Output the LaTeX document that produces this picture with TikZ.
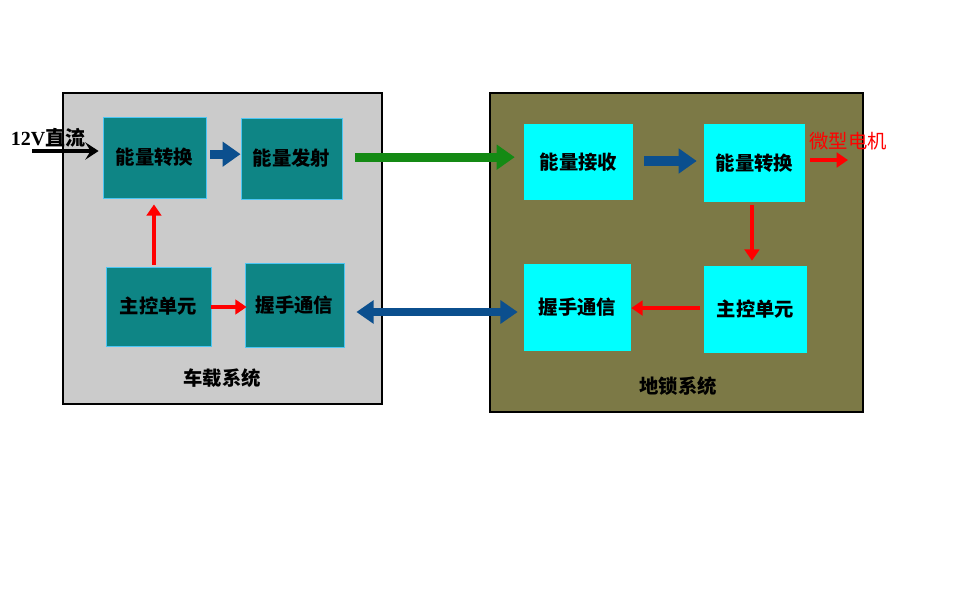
\documentclass[tikz,border=0pt]{standalone}
\usepackage{fontspec}
\usepackage{xcolor}
\usepackage{tikz}
\usetikzlibrary{arrows.meta}
\setmainfont{Liberation Serif}
\newfontfamily\cjk{Noto Sans CJK SC}

\definecolor{panelgray}{HTML}{CBCBCB}
\definecolor{panelolive}{HTML}{7C7946}
\definecolor{boxteal}{HTML}{0E8585}
\definecolor{boxcyan}{HTML}{00FFFF}
\definecolor{flowblue}{HTML}{0B4F8E}
\definecolor{flowgreen}{HTML}{148A14}
\definecolor{ctrlred}{HTML}{FF0000}

\tikzset{
  panel/.style={draw=black, line width=0.9pt, inner sep=0pt},
  tealbox/.style={draw=cyan!70, fill=boxteal, line width=0.6pt, inner sep=0pt,
    font=\cjk\bfseries\fontsize{14.5}{16}\selectfont},
  cyanbox/.style={fill=boxcyan, inner sep=0pt,
    font=\cjk\bfseries\fontsize{14.5}{16}\selectfont},
  caption/.style={inner sep=0.75pt, font=\cjk\bfseries\fontsize{14.5}{16}\selectfont},
  bigflow/.style={line width=7pt, -{Triangle[width=18pt,length=13.5pt]}},
  ctrlflow/.style={draw=ctrlred, line width=3pt, -{Triangle[width=11pt,length=8.5pt]}},
}

\begin{document}
\begin{tikzpicture}[x=0.75pt,y=0.75pt,yscale=-1,xscale=1]

\useasboundingbox (0,0) rectangle (954,596);

% panels
\node[panel, fill=panelgray, minimum width=239.25pt, minimum height=233.25pt] (lpanel) at (222.5,248.5) {};
\node[panel, fill=panelolive, minimum width=279.75pt, minimum height=239.25pt] (rpanel) at (676.5,252.5) {};

% vehicle side
\node[tealbox, minimum width=77.25pt, minimum height=60.75pt] (lzh) at (154.5,157.5) {能量转换};
\node[tealbox, minimum width=75.75pt, minimum height=60.75pt] (lfs) at (291.5,158.5) {能量发射};
\node[tealbox, minimum width=78.75pt, minimum height=59.25pt] (lzk) at (158.5,306.5) {主控单元};
\node[tealbox, minimum width=74.25pt, minimum height=63pt] (lws) at (294.5,305) {握手通信};
\node[caption] (lname) at (222,378) {车载系统};

% ground lock side
\node[cyanbox, minimum width=81.75pt, minimum height=57pt] (rjs) at (578.5,162) {能量接收};
\node[cyanbox, minimum width=75.75pt, minimum height=58.5pt] (rzh) at (754.5,163) {能量转换};
\node[cyanbox, minimum width=80.25pt, minimum height=65.25pt] (rws) at (577.5,307.5) {握手通信};
\node[cyanbox, minimum width=77.25pt, minimum height=65.25pt] (rzk) at (755.5,309.5) {主控单元};
\node[caption] (rname) at (678,386) {地锁系统};

% input and output
\node[inner sep=0.75pt, font=\bfseries\fontsize{15}{17}\selectfont] (dclabel) at (48,138) {12V\cjk 直流};
\coordinate (dcin) at (32,151);
\node[inner sep=0.75pt, text=ctrlred, font=\cjk\fontsize{14.5}{16}\selectfont] (motor) at (848,141) {微型电机};
\coordinate (motorin) at (848,160);

\draw[line width=2.6pt, -{Stealth[width=13pt,length=10pt,inset=4pt]}] (dcin) -- ([xshift=-3pt]dcin -| lzh.west);

% power flow
\draw[bigflow, draw=flowblue, shorten <=3pt] ([yshift=-2.5pt]lzh.east) -- ([yshift=-2.5pt]lzh.east -| lfs.west);
\draw[bigflow, draw=flowgreen, shorten <=9.75pt, shorten >=6.75pt] ([yshift=-1pt]lfs.east) -- ([yshift=-1pt]lfs.east -| rjs.west);
\draw[bigflow, draw=flowblue, shorten <=8.25pt, shorten >=5.25pt] ([yshift=-0.75pt]rjs.east) -- ([yshift=-0.75pt]rjs.east -| rzh.west);
\draw[line width=6pt, draw=flowblue, {Triangle[width=17pt,length=13pt]}-{Triangle[width=17pt,length=13pt]},
  shorten <=9pt, shorten >=4.5pt] ([yshift=5.25pt]lws.east) -- ([yshift=5.25pt]lws.east -| rws.west);

% control
\draw[ctrlflow, shorten <=3.75pt] ([yshift=-2.25pt]rzh.east) -- (motorin);
\draw[ctrlflow, shorten <=2.25pt, shorten >=3.75pt] ([xshift=-1.9pt]rzh.south) -- ([xshift=-1.9pt]rzh.south |- rzk.north);
\draw[ctrlflow] ([xshift=-3pt,yshift=-1.1pt]rzk.west) -- ([yshift=-1.1pt]rzk.west -| rws.east);
\draw[ctrlflow, shorten >=4.5pt] ([xshift=-3.4pt,yshift=-1.5pt]lzk.north) -- ([xshift=-3.4pt]lzk.north |- lzh.south);
\draw[ctrlflow] ([yshift=1.5pt]lzk.east |- lws.west) -- ([xshift=1.5pt,yshift=1.5pt]lws.west);

\end{tikzpicture}
\end{document}
